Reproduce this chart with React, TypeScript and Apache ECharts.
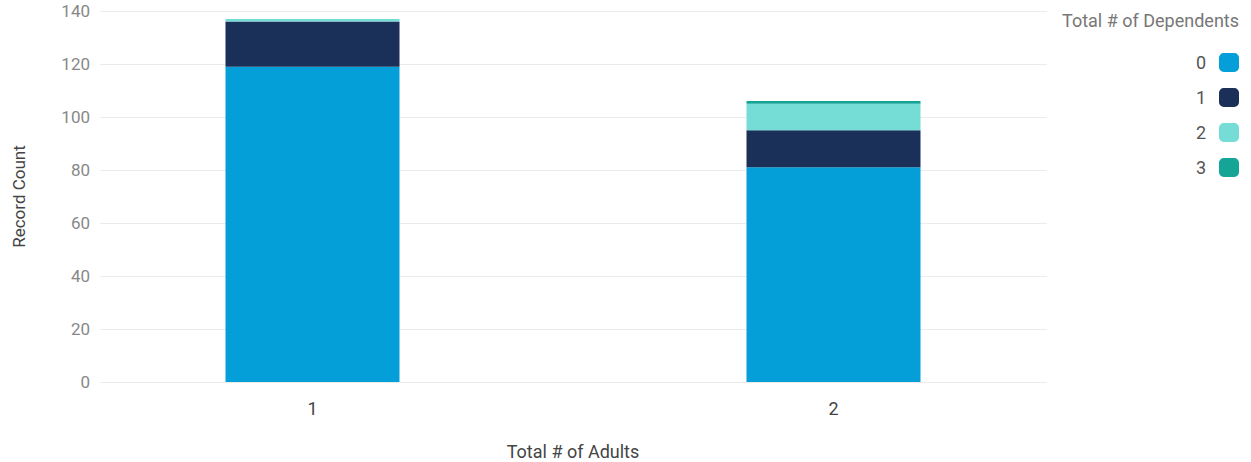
import React, { useEffect, useRef } from "react";
import * as echarts from "echarts";

const categories = ["1", "2"];
const seriesNames = ["0", "1", "2", "3"];
const dep0 = [119, 81];
const dep1 = [17, 14];
const dep2 = [1, 10];
const dep3 = [0, 1];
const yTicks = { min: 0, max: 140, interval: 20 };
const colors = ["#049fd9", "#1a3059", "#76ddd6", "#14a597"];

export default function App() {
  const ref = useRef<HTMLDivElement>(null);
  useEffect(() => {
    const chart = echarts.init(ref.current!, null, { renderer: "svg" });
    const values = [dep0, dep1, dep2, dep3];
    const font = "Roboto, 'Noto Sans', sans-serif";
    chart.setOption({
      animation: false,
      title: {
        text: "Total # of Dependents",
        right: 7,
        top: 6,
        textStyle: { fontSize: 18, fontWeight: "normal", color: "#777", fontFamily: font },
      },
      legend: {
        data: seriesNames,
        orient: "vertical",
        right: 7,
        top: 48,
        align: "right",
        icon: "roundRect",
        itemWidth: 20,
        itemHeight: 19,
        itemGap: 16,
        textStyle: { fontSize: 18, color: "#555", fontFamily: font, padding: [0, 8, 0, 0] },
      },
      grid: [
        { left: 100, right: 204, top: 11, bottom: 80, outerBoundsMode: "none", containLabel: false },
        { left: 52, right: 157, top: 11, bottom: 80, outerBoundsMode: "none", containLabel: false },
      ],
      xAxis: [
        {
          gridIndex: 0,
          type: "category",
          data: categories,
          show: false,
        },
        {
          gridIndex: 1,
          type: "category",
          data: categories,
          axisLine: { show: false },
          axisTick: { show: false },
          axisLabel: { fontSize: 18, color: "#444", margin: 17, fontFamily: font },
          name: "Total # of Adults",
          nameLocation: "middle",
          nameGap: 60,
          nameTextStyle: { fontSize: 18, color: "#444", fontFamily: font },
        },
      ],
      yAxis: [
        {
          gridIndex: 0,
          type: "value",
          min: yTicks.min,
          max: yTicks.max,
          interval: yTicks.interval,
          axisLine: { show: false },
          axisTick: { show: false },
          axisLabel: { fontSize: 17, color: "#888", margin: 10, fontFamily: font },
          splitLine: { lineStyle: { color: "#ebebeb", width: 1 } },
          name: "Record Count",
          nameLocation: "middle",
          nameGap: 73,
          nameTextStyle: { fontSize: 17, color: "#444", fontFamily: font },
        },
        {
          gridIndex: 1,
          type: "value",
          min: yTicks.min,
          max: yTicks.max,
          interval: yTicks.interval,
          show: false,
          splitLine: { show: false },
        },
      ],
      series: seriesNames.map((name, i) => ({
        name,
        type: "bar",
        stack: "total",
        xAxisIndex: 1,
        yAxisIndex: 1,
        barWidth: 174,
        data: values[i],
        itemStyle: { color: colors[i] },
      })),
    });
    return () => chart.dispose();
  }, []);
  return (
    <div
      ref={ref}
      style={{ position: "fixed", left: 0, top: 0, width: 1251, height: 462, background: "#fff" }}
    />
  );
}
